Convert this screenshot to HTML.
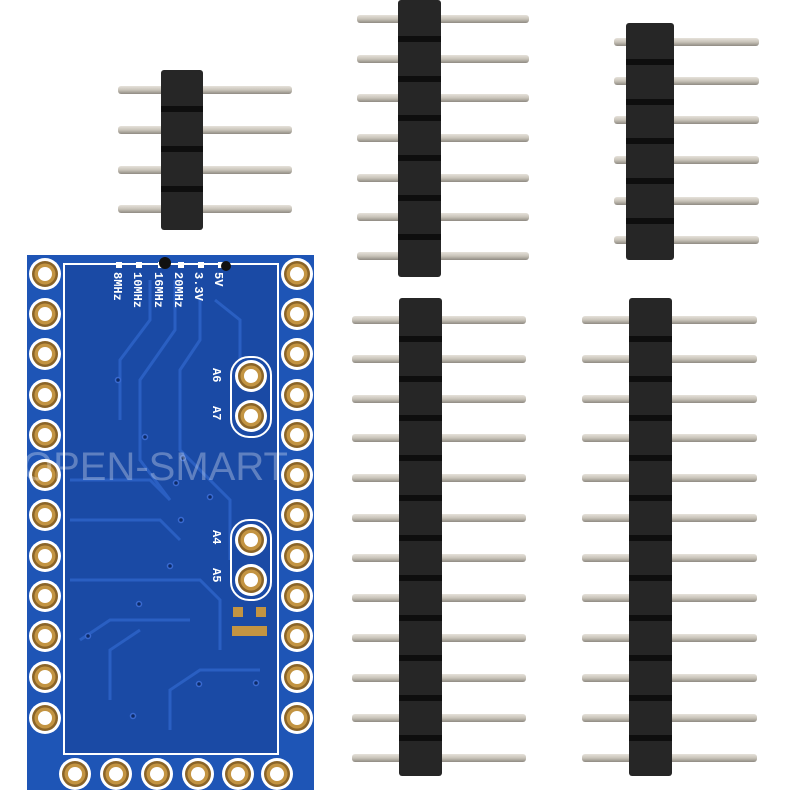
<!DOCTYPE html>
<html><head><meta charset="utf-8"><style>
html,body{margin:0;padding:0;background:#fff;}
svg{display:block;}
.lb{font-family:"Liberation Mono",monospace;font-weight:bold;fill:#fff;}
</style></head><body>
<svg width="800" height="800" viewBox="0 0 800 800" xmlns="http://www.w3.org/2000/svg">
<defs>
<linearGradient id="pg" x1="0" y1="0" x2="0" y2="1">
<stop offset="0" stop-color="#e6e2da"/><stop offset="0.5" stop-color="#c8c3b9"/><stop offset="1" stop-color="#8f8a82"/>
</linearGradient>
<g id="pad"><circle r="16" fill="#fff"/><circle r="13" fill="#8a6428"/><circle r="10.5" fill="#c39442"/><circle r="7" fill="#fff"/></g>
</defs>
<rect width="800" height="800" fill="#fff"/>

<!-- 4-pin header -->
<g>
<rect x="118" y="86" width="174" height="8" rx="3" fill="url(#pg)"/>
<rect x="118" y="126" width="174" height="8" rx="3" fill="url(#pg)"/>
<rect x="118" y="166" width="174" height="8" rx="3" fill="url(#pg)"/>
<rect x="118" y="205" width="174" height="8" rx="3" fill="url(#pg)"/>
<rect x="161" y="70" width="42" height="160" rx="3" fill="#262626"/>
<rect x="161" y="106" width="42" height="6" fill="#0e0e0e"/>
<rect x="161" y="146" width="42" height="6" fill="#0e0e0e"/>
<rect x="161" y="186" width="42" height="6" fill="#0e0e0e"/>
</g>

<!-- 7-pin header -->
<g>
<rect x="357" y="15" width="172" height="8" rx="3" fill="url(#pg)"/>
<rect x="357" y="55" width="172" height="8" rx="3" fill="url(#pg)"/>
<rect x="357" y="94" width="172" height="8" rx="3" fill="url(#pg)"/>
<rect x="357" y="134" width="172" height="8" rx="3" fill="url(#pg)"/>
<rect x="357" y="174" width="172" height="8" rx="3" fill="url(#pg)"/>
<rect x="357" y="213" width="172" height="8" rx="3" fill="url(#pg)"/>
<rect x="357" y="252" width="172" height="8" rx="3" fill="url(#pg)"/>
<rect x="398" y="0" width="43" height="277" rx="3" fill="#262626"/>
<rect x="398" y="36" width="43" height="6" fill="#0e0e0e"/>
<rect x="398" y="76" width="43" height="6" fill="#0e0e0e"/>
<rect x="398" y="115" width="43" height="6" fill="#0e0e0e"/>
<rect x="398" y="155" width="43" height="6" fill="#0e0e0e"/>
<rect x="398" y="195" width="43" height="6" fill="#0e0e0e"/>
<rect x="398" y="234" width="43" height="6" fill="#0e0e0e"/>
</g>

<!-- 6-pin header -->
<g>
<rect x="614" y="38" width="145" height="8" rx="3" fill="url(#pg)"/>
<rect x="614" y="77" width="145" height="8" rx="3" fill="url(#pg)"/>
<rect x="614" y="116" width="145" height="8" rx="3" fill="url(#pg)"/>
<rect x="614" y="156" width="145" height="8" rx="3" fill="url(#pg)"/>
<rect x="614" y="197" width="145" height="8" rx="3" fill="url(#pg)"/>
<rect x="614" y="236" width="145" height="8" rx="3" fill="url(#pg)"/>
<rect x="626" y="23" width="48" height="237" rx="3" fill="#262626"/>
<rect x="626" y="59" width="48" height="6" fill="#0e0e0e"/>
<rect x="626" y="99" width="48" height="6" fill="#0e0e0e"/>
<rect x="626" y="138" width="48" height="6" fill="#0e0e0e"/>
<rect x="626" y="178" width="48" height="6" fill="#0e0e0e"/>
<rect x="626" y="218" width="48" height="6" fill="#0e0e0e"/>
</g>

<!-- 12-pin left -->
<g>
<rect x="352" y="316" width="174" height="8" rx="3" fill="url(#pg)"/>
<rect x="352" y="355" width="174" height="8" rx="3" fill="url(#pg)"/>
<rect x="352" y="395" width="174" height="8" rx="3" fill="url(#pg)"/>
<rect x="352" y="434" width="174" height="8" rx="3" fill="url(#pg)"/>
<rect x="352" y="474" width="174" height="8" rx="3" fill="url(#pg)"/>
<rect x="352" y="514" width="174" height="8" rx="3" fill="url(#pg)"/>
<rect x="352" y="554" width="174" height="8" rx="3" fill="url(#pg)"/>
<rect x="352" y="594" width="174" height="8" rx="3" fill="url(#pg)"/>
<rect x="352" y="634" width="174" height="8" rx="3" fill="url(#pg)"/>
<rect x="352" y="674" width="174" height="8" rx="3" fill="url(#pg)"/>
<rect x="352" y="714" width="174" height="8" rx="3" fill="url(#pg)"/>
<rect x="352" y="754" width="174" height="8" rx="3" fill="url(#pg)"/>
<rect x="399" y="298" width="43" height="478" rx="3" fill="#262626"/>
<rect x="399" y="336" width="43" height="6" fill="#0e0e0e"/>
<rect x="399" y="376" width="43" height="6" fill="#0e0e0e"/>
<rect x="399" y="415" width="43" height="6" fill="#0e0e0e"/>
<rect x="399" y="455" width="43" height="6" fill="#0e0e0e"/>
<rect x="399" y="495" width="43" height="6" fill="#0e0e0e"/>
<rect x="399" y="535" width="43" height="6" fill="#0e0e0e"/>
<rect x="399" y="575" width="43" height="6" fill="#0e0e0e"/>
<rect x="399" y="615" width="43" height="6" fill="#0e0e0e"/>
<rect x="399" y="655" width="43" height="6" fill="#0e0e0e"/>
<rect x="399" y="695" width="43" height="6" fill="#0e0e0e"/>
<rect x="399" y="735" width="43" height="6" fill="#0e0e0e"/>
</g>

<!-- 12-pin right -->
<g>
<rect x="582" y="316" width="175" height="8" rx="3" fill="url(#pg)"/>
<rect x="582" y="355" width="175" height="8" rx="3" fill="url(#pg)"/>
<rect x="582" y="395" width="175" height="8" rx="3" fill="url(#pg)"/>
<rect x="582" y="434" width="175" height="8" rx="3" fill="url(#pg)"/>
<rect x="582" y="474" width="175" height="8" rx="3" fill="url(#pg)"/>
<rect x="582" y="514" width="175" height="8" rx="3" fill="url(#pg)"/>
<rect x="582" y="554" width="175" height="8" rx="3" fill="url(#pg)"/>
<rect x="582" y="594" width="175" height="8" rx="3" fill="url(#pg)"/>
<rect x="582" y="634" width="175" height="8" rx="3" fill="url(#pg)"/>
<rect x="582" y="674" width="175" height="8" rx="3" fill="url(#pg)"/>
<rect x="582" y="714" width="175" height="8" rx="3" fill="url(#pg)"/>
<rect x="582" y="754" width="175" height="8" rx="3" fill="url(#pg)"/>
<rect x="629" y="298" width="43" height="478" rx="3" fill="#262626"/>
<rect x="629" y="336" width="43" height="6" fill="#0e0e0e"/>
<rect x="629" y="376" width="43" height="6" fill="#0e0e0e"/>
<rect x="629" y="415" width="43" height="6" fill="#0e0e0e"/>
<rect x="629" y="455" width="43" height="6" fill="#0e0e0e"/>
<rect x="629" y="495" width="43" height="6" fill="#0e0e0e"/>
<rect x="629" y="535" width="43" height="6" fill="#0e0e0e"/>
<rect x="629" y="575" width="43" height="6" fill="#0e0e0e"/>
<rect x="629" y="615" width="43" height="6" fill="#0e0e0e"/>
<rect x="629" y="655" width="43" height="6" fill="#0e0e0e"/>
<rect x="629" y="695" width="43" height="6" fill="#0e0e0e"/>
<rect x="629" y="735" width="43" height="6" fill="#0e0e0e"/>
</g>

<!-- PCB -->
<g>
<rect x="27" y="255" width="287" height="535" fill="#1e55b6"/>
<rect x="64" y="264" width="214" height="490" fill="#1a4aa5" stroke="#fff" stroke-width="2"/>
<g fill="none" stroke="#2a5fc2" stroke-width="3">
<path d="M150 280 L150 320 L120 360 L120 420"/>
<path d="M175 280 L175 330 L140 380 L140 460 L170 500"/>
<path d="M200 300 L200 340 L180 370 L180 450 L230 500 L230 560"/>
<path d="M215 300 L240 320 L240 360"/>
<path d="M70 480 L150 480 L170 500"/>
<path d="M70 520 L160 520 L180 540"/>
<path d="M70 580 L200 580 L220 600 L220 650"/>
<path d="M80 640 L110 620 L190 620"/>
<path d="M110 700 L110 650 L140 630"/>
<path d="M170 730 L170 690 L200 670 L260 670"/>
</g>
<use href="#pad" x="45" y="274"/><use href="#pad" x="45" y="314"/><use href="#pad" x="45" y="354"/>
<use href="#pad" x="45" y="395"/><use href="#pad" x="45" y="435"/><use href="#pad" x="45" y="475"/>
<use href="#pad" x="45" y="515"/><use href="#pad" x="45" y="556"/><use href="#pad" x="45" y="596"/>
<use href="#pad" x="45" y="636"/><use href="#pad" x="45" y="677"/><use href="#pad" x="45" y="718"/>
<use href="#pad" x="297" y="274"/><use href="#pad" x="297" y="314"/><use href="#pad" x="297" y="354"/>
<use href="#pad" x="297" y="395"/><use href="#pad" x="297" y="435"/><use href="#pad" x="297" y="475"/>
<use href="#pad" x="297" y="515"/><use href="#pad" x="297" y="556"/><use href="#pad" x="297" y="596"/>
<use href="#pad" x="297" y="636"/><use href="#pad" x="297" y="677"/><use href="#pad" x="297" y="718"/>
<use href="#pad" x="75" y="774"/><use href="#pad" x="116" y="774"/><use href="#pad" x="157" y="774"/>
<use href="#pad" x="198" y="774"/><use href="#pad" x="238" y="774"/><use href="#pad" x="277" y="774"/>
<rect x="231" y="357" width="40" height="80" rx="18" fill="none" stroke="#fff" stroke-width="2"/>
<use href="#pad" x="251" y="376"/><use href="#pad" x="251" y="416"/>
<rect x="231" y="520" width="40" height="80" rx="18" fill="none" stroke="#fff" stroke-width="2"/>
<use href="#pad" x="251" y="540"/><use href="#pad" x="251" y="580"/>
<text class="lb" font-size="12" transform="translate(213,368) rotate(90)">A6</text>
<text class="lb" font-size="12" transform="translate(213,406) rotate(90)">A7</text>
<text class="lb" font-size="12" transform="translate(213,530) rotate(90)">A4</text>
<text class="lb" font-size="12" transform="translate(213,568) rotate(90)">A5</text>
<rect x="233" y="607" width="10" height="10" fill="#c39442"/><rect x="256" y="607" width="10" height="10" fill="#c39442"/>
<rect x="232" y="626" width="35" height="10" fill="#c39442"/>
<rect x="116" y="262" width="6" height="6" fill="#fff"/><rect x="136" y="262" width="6" height="6" fill="#fff"/>
<rect x="158" y="262" width="6" height="6" fill="#fff"/><rect x="178" y="262" width="6" height="6" fill="#fff"/>
<rect x="198" y="262" width="6" height="6" fill="#fff"/><rect x="218" y="262" width="6" height="6" fill="#fff"/>
<text class="lb" font-size="12" transform="translate(114,272) rotate(90)">8MHz</text>
<text class="lb" font-size="12" transform="translate(134,272) rotate(90)">10MHz</text>
<text class="lb" font-size="12" transform="translate(155,272) rotate(90)">16MHz</text>
<text class="lb" font-size="12" transform="translate(175,272) rotate(90)">20MHz</text>
<text class="lb" font-size="12" transform="translate(195,272) rotate(90)">3.3V</text>
<text class="lb" font-size="12" transform="translate(215,272) rotate(90)">5V</text>
<circle cx="165" cy="263" r="6" fill="#111"/><circle cx="226" cy="266" r="5" fill="#111"/>
<g fill="#0d2a66" stroke="#3a6ad0" stroke-width="1.5">
<circle cx="118" cy="380" r="2.5"/><circle cx="145" cy="437" r="2.5"/><circle cx="183" cy="458" r="2.5"/>
<circle cx="176" cy="483" r="2.5"/><circle cx="181" cy="520" r="2.5"/><circle cx="210" cy="497" r="2.5"/>
<circle cx="170" cy="566" r="2.5"/><circle cx="139" cy="604" r="2.5"/><circle cx="199" cy="684" r="2.5"/>
<circle cx="256" cy="683" r="2.5"/><circle cx="133" cy="716" r="2.5"/><circle cx="88" cy="636" r="2.5"/>
</g>
<text x="22" y="480" style="font-family:'Liberation Sans',sans-serif;font-size:40px;fill:#ffffff;fill-opacity:0.3">OPEN-SMART</text>
</g>
</svg>
</body></html>
